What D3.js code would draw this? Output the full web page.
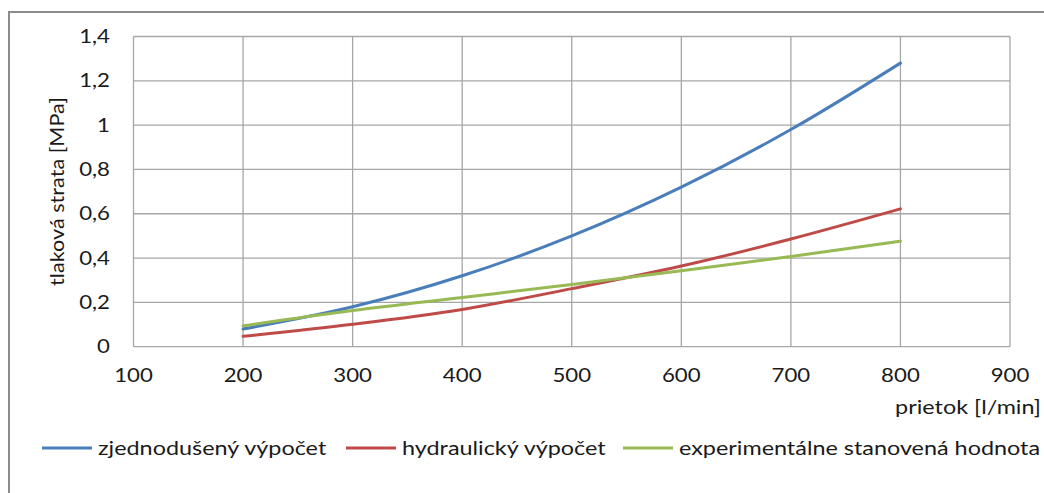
<!DOCTYPE html>
<html>
<head>
<meta charset="utf-8">
<script src="https://cdn.jsdelivr.net/npm/d3@7"></script>
<style>
  body { margin: 0; background: #fff; }
  svg text { font-family: Lato, "Open Sans", sans-serif; fill: #1a1a1a; }
</style>
</head>
<body>
<svg id="chart" width="1044" height="493"></svg>
<script>
// flow rate [l/min]
const flow = [200, 300, 400, 500, 600, 700, 800];

// pressure loss [MPa]
const simplified = [0.08, 0.18, 0.32, 0.50, 0.72, 0.98, 1.28];
const hydraulic = [0.047, 0.101, 0.168, 0.262, 0.364, 0.486, 0.622];
const experimental = [0.094, 0.163, 0.222, 0.281, 0.343, 0.407, 0.476];

const xTicks = [100, 200, 300, 400, 500, 600, 700, 800, 900];
const yTicks = [0, 0.2, 0.4, 0.6, 0.8, 1, 1.2, 1.4];

const seriesNames = ['zjednodušený výpočet', 'hydraulický výpočet', 'experimentálne stanovená hodnota'];
const seriesColors = ['#4A7EBB', '#BE4B48', '#98B954'];

const series = [simplified, hydraulic, experimental].map((vals, i) => ({
    name: seriesNames[i],
    color: seriesColors[i],
    points: flow.map((q, j) => ({ q, p: vals[j] }))
}));

const svg = d3.select('#chart');

// the picture's text is a bit wide, stretch it horizontally
const SX = 1.17;
const label = (parent, x, y, extra = '') => parent.append('text')
    .attr('transform', `translate(${x},${y}) ${extra} scale(${SX},1)`)
    .attr('dy', '0.35em');

// chart frame (only left/top visible in the picture)
svg.append('rect')
    .attr('x', 9).attr('y', 12)
    .attr('width', 1200).attr('height', 700)
    .attr('fill', 'none')
    .attr('stroke', '#8c8c8c')
    .attr('stroke-width', 2);

const m = { left: 133.5, top: 36.5, right: 1010, bottom: 346.7 };

const x = d3.scaleLinear().domain([100, 900]).range([m.left, m.right]);
const y = d3.scaleLinear().domain([0, 1.4]).range([m.bottom, m.top]);

const fmt = d => d3.format('~g')(+d.toFixed(1)).replace('.', ',');

// Grid
svg.append('g').selectAll('line')
    .data(yTicks)
    .enter()
    .append('line')
    .attr('x1', m.left).attr('x2', m.right)
    .attr('y1', d => y(d)).attr('y2', d => y(d))
    .attr('stroke', '#a6a6a6')
    .attr('stroke-width', 1.3);

svg.append('g').selectAll('line')
    .data(xTicks)
    .enter()
    .append('line')
    .attr('x1', d => x(d)).attr('x2', d => x(d))
    .attr('y1', m.top).attr('y2', m.bottom)
    .attr('stroke', '#a6a6a6')
    .attr('stroke-width', 1.3);

// Tick labels
const yLab = svg.append('g');
yTicks.forEach(d => {
    label(yLab, 110, y(d))
        .attr('text-anchor', 'end')
        .attr('font-size', '19px')
        .text(fmt(d));
});

const xLab = svg.append('g');
xTicks.forEach(d => {
    label(xLab, x(d), 375)
        .attr('text-anchor', 'middle')
        .attr('font-size', '19px')
        .text(d);
});

// Axis titles
label(svg, 58, (m.top + m.bottom) / 2, 'rotate(-90)')
    .attr('text-anchor', 'middle')
    .attr('font-size', '18.5px')
    .text('tlaková strata [MPa]');

label(svg, 1041, 407)
    .attr('text-anchor', 'end')
    .attr('font-size', '20px')
    .text('prietok [l/min]');

// Lines
const line = d3.line()
    .x(d => x(d.q)).y(d => y(d.p))
    .curve(d3.curveMonotoneX);

series.forEach(s => {
    svg.append('path').datum(s.points)
        .attr('d', line)
        .attr('fill', 'none')
        .attr('stroke', s.color)
        .attr('stroke-width', 3)
        .attr('stroke-linecap', 'round');
});

// Legend
const legendX = [42, 346, 623];
const legY = 448;
series.forEach((s, i) => {
    const g = svg.append('g').attr('transform', `translate(${legendX[i]},${legY})`);
    g.append('line')
        .attr('x1', 0).attr('x2', 50)
        .attr('stroke', s.color)
        .attr('stroke-width', 3);
    label(g, 56, 0)
        .attr('font-size', '20px')
        .text(s.name);
});
</script>
</body>
</html>
